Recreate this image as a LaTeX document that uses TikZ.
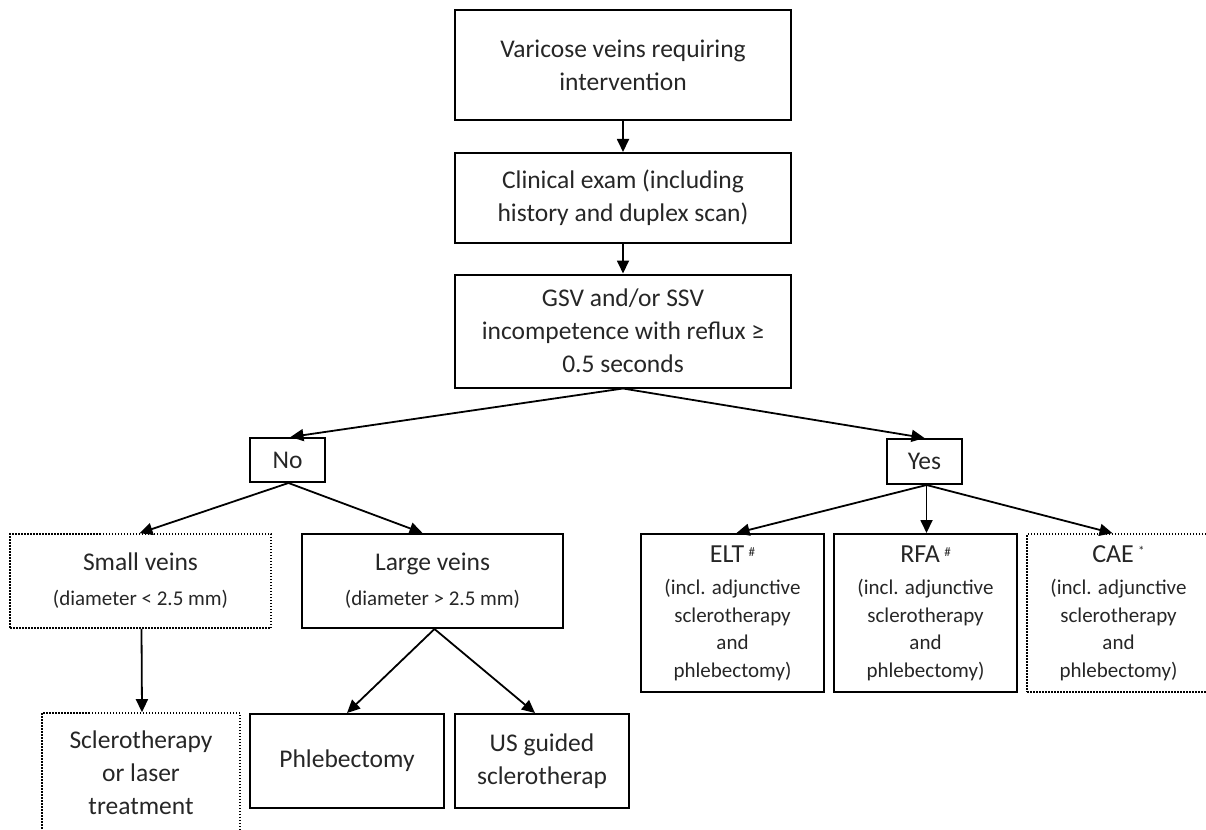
\documentclass[tikz,border=0pt]{standalone}
\usepackage{fontspec}
\setmainfont{Carlito}
\usetikzlibrary{arrows.meta}
\begin{document}
\begin{tikzpicture}[x=1pt,y=-1pt,
  box/.style={draw, line width=2pt, align=center, inner sep=0pt, rectangle,
    font=\fontsize{25.5}{33}\selectfont, text=black!85},
  dotbox/.style={box, line width=1.6pt, dash pattern=on 1.5pt off 1.5pt},
  arr/.style={line width=1.8pt, -{Triangle[length=13pt,width=12pt]}},
  smallfont/.style={font=\fontsize{21}{27.5}\selectfont}
]
\useasboundingbox (0,0) rectangle (1206,829);
\clip (0,0) rectangle (1206,829);

\node[box, minimum width=336pt, minimum height=110pt] (top) at (623,65)
  {Varicose veins requiring\\intervention};
\node[box, minimum width=336pt, minimum height=90pt] (clin) at (623,198)
  {Clinical exam (including\\history and duplex scan)};
\node[box, minimum width=336pt, minimum height=113pt] (gsv) at (623,331)
  {GSV and/or SSV\\incompetence with reflux ≥\\0.5 seconds};

\node[box, minimum width=75pt, minimum height=44pt] (no) at (287.5,460) {No};
\node[box, minimum width=75pt, minimum height=45pt] (yes) at (924.5,461.5) {Yes};

\node[dotbox, minimum width=261pt, minimum height=94pt] (small) at (140.5,581)
  {Small veins\\[2pt]{\fontsize{21}{21}\selectfont (diameter < 2.5 mm)}};
\node[box, minimum width=261pt, minimum height=94pt] (large) at (432.5,581)
  {Large veins\\[2pt]{\fontsize{21}{21}\selectfont (diameter > 2.5 mm)}};

\node[dotbox, minimum width=198pt, minimum height=120pt] (sclero) at (141,773)
  {Sclerotherapy\\or laser\\treatment};
\node[box, minimum width=194pt, minimum height=94pt] (phleb) at (347,761)
  {Phlebectomy};
\node[box, minimum width=174pt, minimum height=94pt] (us) at (542,761)
  {US guided\\sclerotherap};

\node[box, smallfont, minimum width=183pt, minimum height=158pt] (elt) at (732.5,613)
  {{\fontsize{26}{27}\selectfont ELT\,\raisebox{6pt}{\fontsize{13}{13}\selectfont\#}}\\[5pt]
   (incl. adjunctive\\sclerotherapy\\and\\phlebectomy)};
\node[box, smallfont, minimum width=183pt, minimum height=158pt] (rfa) at (925.5,613)
  {{\fontsize{26}{27}\selectfont RFA\,\raisebox{6pt}{\fontsize{13}{13}\selectfont\#}}\\[5pt]
   (incl. adjunctive\\sclerotherapy\\and\\phlebectomy)};
\node[dotbox, smallfont, minimum width=183pt, minimum height=158pt] (cae) at (1118.5,613)
  {{\fontsize{26}{27}\selectfont CAE\,\raisebox{7pt}{\fontsize{13}{13}\selectfont*}}\\[5pt]
   (incl. adjunctive\\sclerotherapy\\and\\phlebectomy)};

\draw[arr] (top.south) -- (clin.north);
\draw[arr] (clin.south) -- (gsv.north);
\draw[arr] (gsv.south) -- ([xshift=3pt]no.north);
\draw[arr] (gsv.south) -- (yes.north);
\draw[arr] ([xshift=1pt]no.south) -- ([xshift=-1pt]small.north);
\draw[arr] ([xshift=1pt]no.south) -- ([xshift=-10pt]large.north);
\draw[arr] ([xshift=1pt]small.south) -- ([xshift=1pt]sclero.north);
\draw[arr] ([xshift=2pt]large.south) -- (phleb.north);
\draw[arr] ([xshift=2pt]large.south) -- ([xshift=-7pt]us.north);
\draw[arr] ([xshift=2pt]yes.south) -- ([xshift=4pt]elt.north);
\draw[arr] ([xshift=2pt]yes.south) -- ([xshift=1pt]rfa.north);
\draw[arr] ([xshift=2pt]yes.south) -- ([xshift=-6pt]cae.north);
\end{tikzpicture}
\end{document}
